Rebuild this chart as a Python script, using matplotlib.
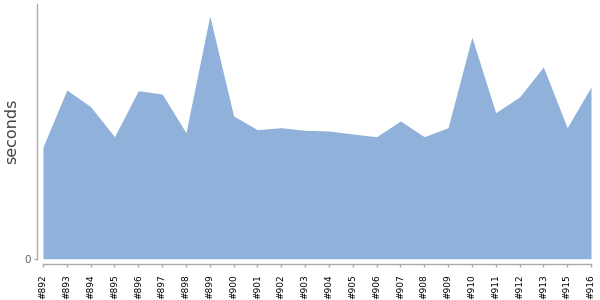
import matplotlib
matplotlib.use("Agg")
import matplotlib.pyplot as plt

# Build times (seconds)
builds = ["#892", "#893", "#894", "#895", "#896", "#897", "#898", "#899",
          "#900", "#901", "#902", "#903", "#904", "#905", "#906", "#907",
          "#908", "#909", "#910", "#911", "#912", "#913", "#915", "#916"]
seconds = [111.7, 168.7, 152.0, 122.0, 168.0, 164.7, 126.0, 242.7,
           142.7, 129.0, 131.0, 128.4, 127.7, 124.7, 122.0, 137.7,
           122.0, 131.0, 221.4, 146.0, 161.7, 191.7, 131.0, 171.7]

fig = plt.figure(figsize=(6, 3), dpi=100)
ax = fig.add_axes([43 / 600, 1 - 258.7 / 300, 548 / 600, 254.7 / 300])

x = list(range(len(builds)))
ax.fill_between(x, seconds, 0, color="#8fb1da", linewidth=0)
ax.set_xlim(0, len(builds) - 1)
ax.set_ylim(0, 254.7)

for side in ["top", "right"]:
    ax.spines[side].set_visible(False)
for side in ["left", "bottom"]:
    ax.spines[side].set_position(("outward", 4))
    ax.spines[side].set_color("#aaaaaa")
    ax.spines[side].set_linewidth(1)
ax.tick_params(axis="both", colors="#aaaaaa", length=2.5, width=1)

ax.set_xticks(x)
ax.set_xticklabels(builds, fontsize=6.5)
ax.tick_params(axis="x", labelcolor="black", pad=4.5, labelrotation=90)
ax.set_yticks([0])
ax.set_yticklabels(["0"], fontsize=7.5)
ax.tick_params(axis="y", labelcolor="#666666", pad=2)

ax.set_ylabel("seconds", fontsize=11.5, color="#444444")
ax.yaxis.set_label_coords(-0.0438, 0.5)

fig.savefig("out.png", dpi=100)
